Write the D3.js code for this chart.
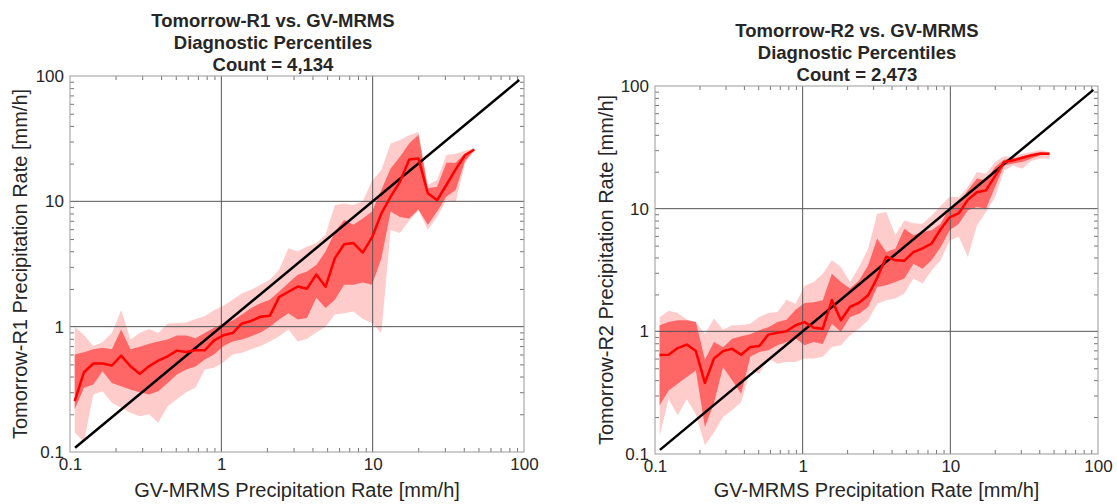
<!DOCTYPE html>
<html>
<head>
<meta charset="utf-8">
<script src="https://cdn.jsdelivr.net/npm/d3@7"></script>
<style>
  body { margin: 0; background: #fff; }
  svg text { font-family: Arial, "Liberation Sans", sans-serif; fill: #262626; }
</style>
</head>
<body>
<svg id="chart" width="1117" height="504"></svg>
<script>
// bin centres of GV-MRMS rate [mm/h]
var bins = [0.1074, 0.1237, 0.1425, 0.1641, 0.1891, 0.2178, 0.2508, 0.2889, 0.3328, 0.3833,
  0.4416, 0.5086, 0.5858, 0.6748, 0.7773, 0.8954, 1.031, 1.188, 1.368, 1.576,
  1.816, 2.091, 2.409, 2.775, 3.196, 3.681, 4.241, 4.884, 5.626, 6.481,
  7.464, 8.598, 9.904, 11.41, 13.14, 15.14, 17.43, 20.08, 23.13, 26.65,
  30.69, 35.35, 40.72, 46.91];

// Tomorrow-R1 percentiles
var r1P10 = [0.143, 0.12, 0.288, 0.305, 0.247, 0.225, 0.206, 0.193, 0.2, 0.171,
  0.232, 0.263, 0.30, 0.325, 0.455, 0.47, 0.52, 0.60, 0.62, 0.66,
  0.70, 0.76, 0.84, 0.95, 0.76, 0.80, 0.90, 1.0, 1.25, 1.28,
  1.32, 1.15, 1.07, 0.89, 5.9, 5.6, 7.0, 8.5, 5.9, 7.5,
  10.2, 9.9, 20, 25.3];
var r1P25 = [0.219, 0.325, 0.345, 0.44, 0.356, 0.335, 0.315, 0.30, 0.288, 0.305,
  0.356, 0.415, 0.455, 0.48, 0.546, 0.60, 0.70, 0.76, 0.79, 0.84,
  0.90, 1.00, 1.14, 1.28, 1.14, 1.17, 1.70, 1.41, 1.64, 2.16,
  2.16, 2.25, 2.16, 3.5, 8.3, 7.5, 7.3, 8.6, 6.5, 8.3,
  10.9, 12.3, 21, 25.6];
var r1P50 = [0.255, 0.433, 0.508, 0.508, 0.49, 0.588, 0.483, 0.42, 0.483, 0.536,
  0.58, 0.644, 0.629, 0.648, 0.648, 0.778, 0.853, 0.89, 1.06, 1.11,
  1.20, 1.22, 1.72, 1.90, 2.09, 2.01, 2.61, 2.08, 3.52, 4.55,
  4.65, 3.9, 5.15, 8.0, 10.9, 14.3, 21.6, 22, 11.6, 10.2,
  13.5, 18, 23.3, 25.9];
var r1P75 = [0.60, 0.625, 0.66, 0.68, 0.66, 0.95, 0.66, 0.69, 0.73, 0.76,
  0.79, 0.85, 0.85, 0.81, 0.89, 0.98, 1.06, 1.12, 1.25, 1.41,
  1.54, 1.64, 1.91, 2.23, 2.59, 2.76, 3.10, 3.98, 5.7, 7.1,
  6.5, 7.3, 8.3, 12.3, 18.3, 22.7, 29, 34, 12.7, 13.1,
  20.3, 20.3, 24.1, 26.2];
var r1P90 = [1.0, 0.86, 0.70, 0.75, 0.89, 1.36, 0.79, 0.89, 0.96, 0.89,
  1.06, 1.07, 1.08, 1.15, 1.21, 1.35, 1.47, 1.64, 1.85, 1.97,
  2.16, 2.37, 2.84, 4.23, 3.98, 4.36, 4.63, 5.4, 9.35, 9.6,
  9.35, 10.0, 14.5, 17.8, 29, 30.8, 33.7, 35.8, 13.5, 14.8,
  23.4, 24, 25.3, 26.5];

// Tomorrow-R2 percentiles
var r2P10 = [0.142, 0.28, 0.207, 0.28, 0.21, 0.118, 0.15, 0.20, 0.227, 0.265,
  0.48, 0.45, 0.60, 0.545, 0.562, 0.562, 0.60, 0.60, 0.62, 0.745,
  0.77, 0.93, 1.05, 1.23, 1.68, 1.79, 1.85, 2.03, 2.7, 2.45,
  3.14, 3.79, 5.5, 5.9, 4.04, 7.3, 9.4, 12.4, 20.5, 22.5,
  21.2, 24.5, 25.6, 25.6];
var r2P25 = [0.25, 0.33, 0.374, 0.425, 0.48, 0.166, 0.26, 0.51, 0.40, 0.31,
  0.62, 0.68, 0.70, 0.77, 0.82, 0.88, 0.77, 0.82, 0.79, 1.155,
  0.99, 1.31, 1.39, 1.58, 2.3, 2.37, 2.52, 2.69, 3.56, 3.24,
  3.79, 4.87, 6.66, 7.55, 9.7, 10.3, 10.0, 15, 22.5, 23.3,
  24, 25.6, 27.2, 27.7];
var r2P50 = [0.64, 0.645, 0.73, 0.78, 0.69, 0.38, 0.60, 0.69, 0.72, 0.645,
  0.745, 0.76, 0.94, 0.975, 1.0, 1.12, 1.19, 1.07, 1.05, 1.80,
  1.23, 1.58, 1.71, 1.97, 2.73, 4.06, 3.79, 3.77, 4.43, 4.75,
  5.2, 6.8, 8.5, 9.2, 11.8, 13.6, 14.1, 18.4, 24, 24.8,
  26, 27.2, 28.1, 28.1];
var r2P75 = [1.12, 1.19, 1.23, 1.23, 1.19, 0.59, 0.82, 0.74, 0.87, 0.91,
  0.946, 1.02, 1.08, 1.19, 1.24, 1.50, 1.70, 1.73, 1.79, 2.95,
  2.52, 2.23, 2.6, 3.45, 5.7, 4.43, 4.72, 6.87, 6.06, 6.45,
  6.66, 7.55, 10.3, 11, 14.1, 17.6, 17, 21.9, 25.1, 25.6,
  26.7, 28.1, 29, 28.5];
var r2P90 = [1.30, 1.47, 1.41, 1.25, 1.19, 0.95, 1.27, 1.03, 1.12, 1.12,
  1.155, 1.31, 1.41, 1.44, 1.81, 1.68, 2.35, 2.52, 2.95, 3.8,
  3.34, 2.52, 3.34, 4.72, 9.1, 9.4, 6.06, 8.0, 7.6, 7.55,
  8.8, 10.5, 12.5, 12.4, 15, 19.9, 19.3, 24, 26.7, 26.4,
  28.1, 29, 29.9, 29];

var tickVals = [0.1, 1, 10, 100];
var tickLabels = ["0.1", "1", "10", "100"];
var gridVals = [1, 10];
var oneToOne = [0.108, 93];

var panels = [
  { title: ["Tomorrow-R1 vs. GV-MRMS", "Diagnostic Percentiles", "Count = 4,134"],
    ylabel: "Tomorrow-R1 Precipitation Rate [mm/h]",
    p10: r1P10, p25: r1P25, p50: r1P50, p75: r1P75, p90: r1P90,
    left: 70, right: 524, top: 76, bottom: 452, titleX: 273, titleY: 27, ylabelX: 20 },
  { title: ["Tomorrow-R2 vs. GV-MRMS", "Diagnostic Percentiles", "Count = 2,473"],
    ylabel: "Tomorrow-R2 Precipitation Rate [mm/h]",
    p10: r2P10, p25: r2P25, p50: r2P50, p75: r2P75, p90: r2P90,
    left: 655, right: 1098, top: 86, bottom: 454, titleX: 857, titleY: 37, ylabelX: 606 }
];

var svg = d3.select("#chart");

panels.forEach(function(p) {
  var x = d3.scaleLog().domain([0.1, 100]).range([p.left, p.right]);
  var y = d3.scaleLog().domain([0.1, 100]).range([p.bottom, p.top]);
  var minor = x.ticks().filter(function(d) { return tickVals.indexOf(+d.toPrecision(3)) < 0; });
  var g = svg.append("g");

  var outer = d3.area()
    .x(function(d, i) { return x(bins[i]); })
    .y0(function(d, i) { return y(p.p10[i]); })
    .y1(function(d, i) { return y(p.p90[i]); });
  var inner = d3.area()
    .x(function(d, i) { return x(bins[i]); })
    .y0(function(d, i) { return y(p.p25[i]); })
    .y1(function(d, i) { return y(p.p75[i]); });
  var median = d3.line()
    .x(function(d, i) { return x(bins[i]); })
    .y(function(d) { return y(d); });

  g.append("path").attr("d", outer(bins)).attr("fill", "#ffcccc");
  g.append("path").attr("d", inner(bins)).attr("fill", "#ff6666");

  // grid at decades
  g.selectAll(".gx").data(gridVals).enter().append("line")
    .attr("x1", function(d) { return x(d); }).attr("x2", function(d) { return x(d); })
    .attr("y1", p.top).attr("y2", p.bottom)
    .attr("stroke", "#555").attr("stroke-width", 1);
  g.selectAll(".gy").data(gridVals).enter().append("line")
    .attr("y1", function(d) { return y(d); }).attr("y2", function(d) { return y(d); })
    .attr("x1", p.left).attr("x2", p.right)
    .attr("stroke", "#555").attr("stroke-width", 1);

  // minor ticks pointing inward on all sides
  var tk = [
    [d3.axisBottom(x), "translate(0," + p.bottom + ")"],
    [d3.axisTop(x), "translate(0," + p.top + ")"],
    [d3.axisLeft(y), "translate(" + p.left + ",0)"],
    [d3.axisRight(y), "translate(" + p.right + ",0)"]
  ];
  tk.forEach(function(a) {
    var ax = g.append("g").attr("transform", a[1])
      .call(a[0].tickValues(minor).tickSize(-4).tickFormat(""));
    ax.select(".domain").remove();
    ax.selectAll("line").attr("stroke", "#777");
  });

  g.append("rect")
    .attr("x", p.left).attr("y", p.top)
    .attr("width", p.right - p.left).attr("height", p.bottom - p.top)
    .attr("fill", "none").attr("stroke", "#999").attr("stroke-width", 1);

  g.append("line")
    .attr("x1", x(oneToOne[0])).attr("y1", y(oneToOne[0]))
    .attr("x2", x(oneToOne[1])).attr("y2", y(oneToOne[1]))
    .attr("stroke", "#000").attr("stroke-width", 2.5);

  g.append("path").attr("d", median(p.p50))
    .attr("fill", "none").attr("stroke", "#ff0000").attr("stroke-width", 2.5)
    .attr("stroke-linejoin", "round");

  // tick labels
  var xl = g.append("g").attr("transform", "translate(0," + p.bottom + ")")
    .call(d3.axisBottom(x).tickValues(tickVals).tickSize(0).tickPadding(6)
      .tickFormat(function(d, i) { return tickLabels[i]; }));
  var yl = g.append("g").attr("transform", "translate(" + p.left + ",0)")
    .call(d3.axisLeft(y).tickValues(tickVals).tickSize(0).tickPadding(6)
      .tickFormat(function(d, i) { return tickLabels[i]; }));
  [xl, yl].forEach(function(a) {
    a.select(".domain").remove();
    a.selectAll("text").style("font-size", "17px").attr("fill", "#262626")
      .style("font-family", "Arial, 'Liberation Sans', sans-serif");
  });

  g.append("text")
    .attr("x", (p.left + p.right) / 2).attr("y", 497)
    .attr("text-anchor", "middle").style("font-size", "20px")
    .text("GV-MRMS Precipitation Rate [mm/h]");
  g.append("text")
    .attr("transform", "translate(" + p.ylabelX + "," + (p.top + p.bottom) / 2 + ") rotate(-90)")
    .attr("text-anchor", "middle").attr("dy", "0.35em").style("font-size", "20px")
    .text(p.ylabel);

  g.selectAll(".title").data(p.title).enter().append("text")
    .attr("x", p.titleX).attr("y", function(d, i) { return p.titleY + i * 22; })
    .attr("text-anchor", "middle").style("font-size", "18.5px").style("font-weight", "bold")
    .text(function(d) { return d; });
});
</script>
</body>
</html>
